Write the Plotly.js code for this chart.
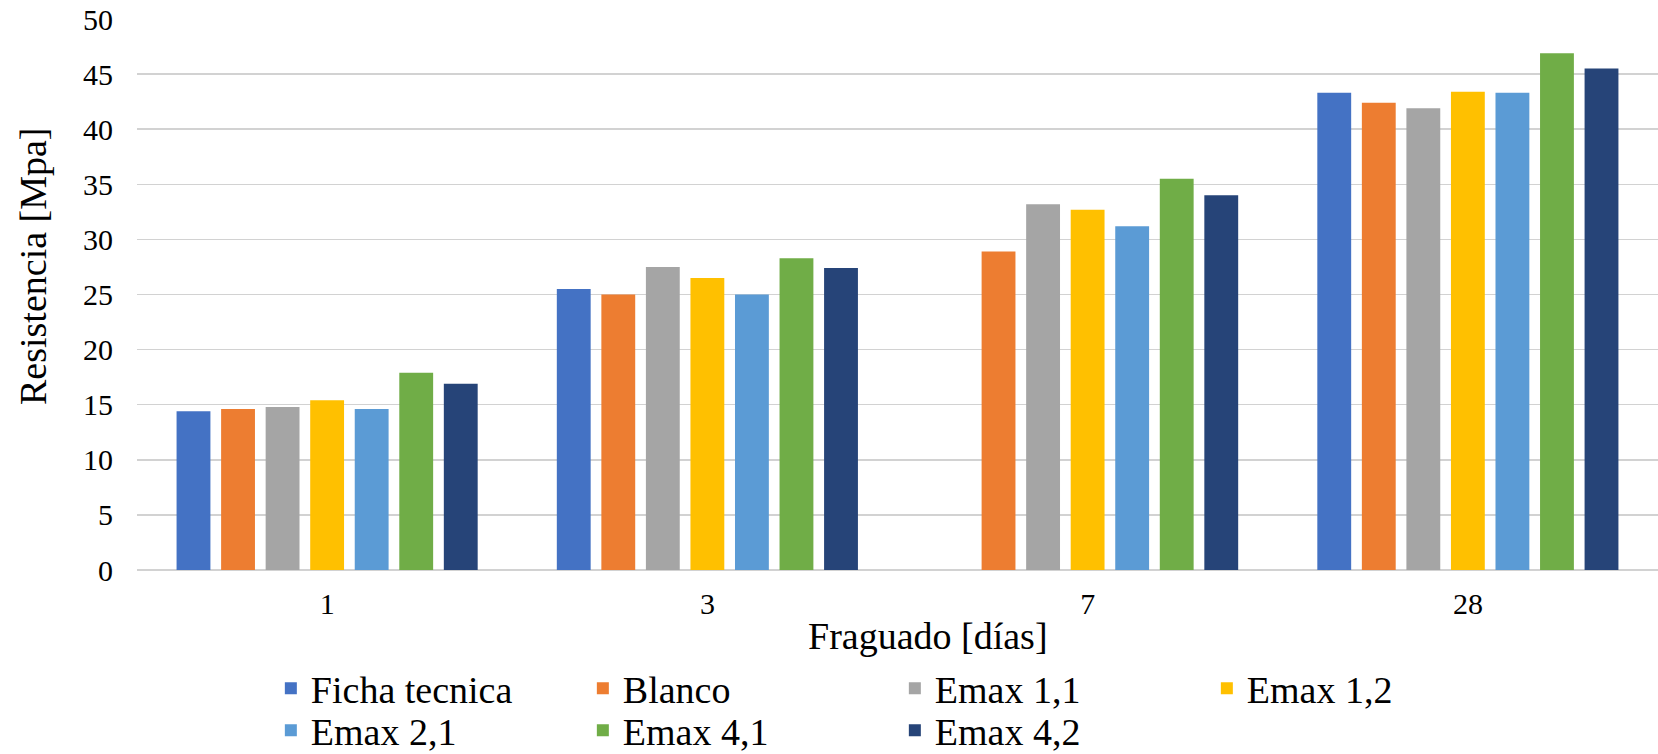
<!DOCTYPE html>
<html>
<head>
<meta charset="utf-8">
<script src="https://cdn.plot.ly/plotly-3.0.1.min.js"></script>
<style>
  html, body { margin: 0; padding: 0; background: #ffffff; }
  #chart { width: 1658px; height: 754px; }
</style>
</head>
<body>
<div id="chart"></div>
<script>
// Curing ages (days) shown on the x axis
const dias = ['1', '3', '7', '28'];

// Compressive strength [MPa] per mix and curing age
const fichaTecnica = [14.4, 25.5, null, 43.3];
const blanco       = [14.6, 25.0, 28.9, 42.4];
const emax11       = [14.8, 27.5, 33.2, 41.9];
const emax12       = [15.4, 26.5, 32.7, 43.4];
const emax21       = [14.6, 25.0, 31.2, 43.3];
const emax41       = [17.9, 28.3, 35.5, 46.9];
const emax42       = [16.9, 27.4, 34.0, 45.5];

const seriesNames = ['Ficha tecnica', 'Blanco', 'Emax 1,1', 'Emax 1,2', 'Emax 2,1', 'Emax 4,1', 'Emax 4,2'];
const seriesValues = [fichaTecnica, blanco, emax11, emax12, emax21, emax41, emax42];
const seriesColors = ['#4472C4', '#ED7D31', '#A5A5A5', '#FFC000', '#5B9BD5', '#70AD47', '#264478'];

const FONT = 'Liberation Serif, Times New Roman, serif';
const PER_ROW = 4; // legend entries per row

const traces = seriesNames.map((name, i) => ({
  type: 'bar',
  name: name,
  x: dias,
  y: seriesValues[i],
  marker: { color: seriesColors[i], line: { width: 0 } },
  legend: i < PER_ROW ? 'legend' : 'legend2',
  hoverinfo: 'x+y+name'
}));

// One legend box per row so the row spacing can be set directly
function legendRow(top) {
  return {
    orientation: 'h',
    xref: 'paper',
    yref: 'container',
    x: 0.088,
    y: top,
    xanchor: 'left',
    yanchor: 'top',
    font: { family: FONT, size: 38, color: '#000000' },
    entrywidth: 267,
    entrywidthmode: 'pixels',
    tracegroupgap: 0,
    bgcolor: 'rgba(0,0,0,0)',
    itemclick: false,
    itemdoubleclick: false
  };
}

const layout = {
  width: 1658,
  height: 754,
  margin: { l: 137, r: 0, t: 19, b: 184, pad: 0 },
  paper_bgcolor: '#ffffff',
  plot_bgcolor: '#ffffff',
  font: { family: FONT, color: '#000000', size: 30 },
  barmode: 'group',
  bargap: 0.18,
  bargroupgap: 0.24,
  showlegend: true,
  xaxis: {
    type: 'category',
    showgrid: false,
    showline: false,
    ticks: '',
    tickfont: { family: FONT, size: 30, color: '#000000' },
    ticklabelstandoff: 13
  },
  yaxis: {
    range: [0, 50],
    dtick: 5,
    tick0: 0,
    showgrid: true,
    gridcolor: '#d2d2d2',
    gridwidth: 1.5,
    zeroline: true,
    zerolinecolor: '#d2d2d2',
    zerolinewidth: 1.5,
    showline: false,
    ticks: '',
    tickfont: { family: FONT, size: 30, color: '#000000' },
    ticklabelstandoff: 23
  },
  legend: legendRow(1 - 657 / 754),
  legend2: legendRow(1 - 699 / 754),
  annotations: [
    {
      text: 'Resistencia [Mpa]',
      xref: 'paper', yref: 'paper',
      x: (33 - 137) / 1521, y: (570 - 266) / 551,
      xanchor: 'center', yanchor: 'middle',
      textangle: -90,
      showarrow: false,
      font: { family: FONT, size: 38, color: '#000000' }
    },
    {
      text: 'Fraguado [días]',
      xref: 'paper', yref: 'paper',
      x: (928 - 137) / 1521, y: (570 - 636) / 551,
      xanchor: 'center', yanchor: 'middle',
      showarrow: false,
      font: { family: FONT, size: 38, color: '#000000' }
    }
  ]
};

Plotly.newPlot('chart', traces, layout, { displayModeBar: false, staticPlot: true });
</script>
</body>
</html>
